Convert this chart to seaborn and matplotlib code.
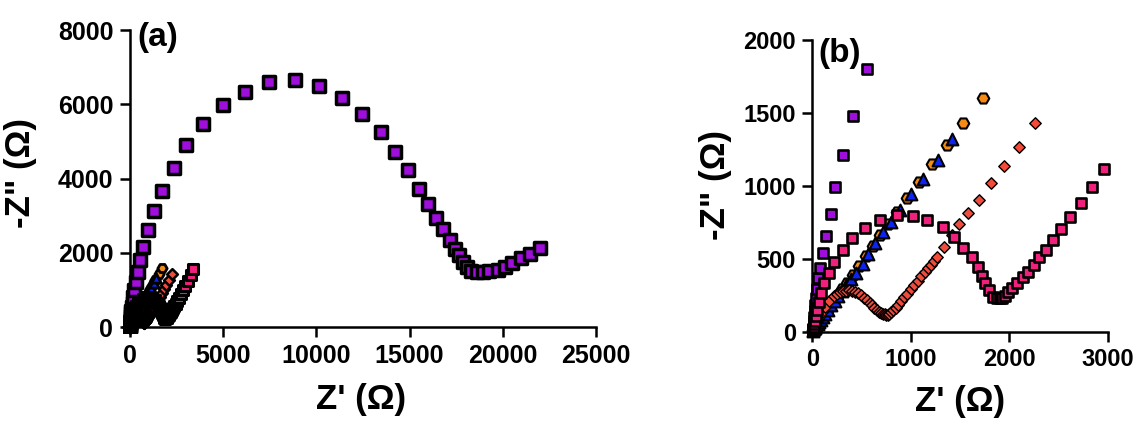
import numpy as np
import pandas as pd
import matplotlib
matplotlib.use("Agg")
import matplotlib.pyplot as plt
import seaborn as sns

# Nyquist data, Z' and -Z'' in ohms
purple_x = [5, 8, 11, 14, 17, 20, 24, 30, 38, 48, 61, 78, 105, 139, 187, 233, 310, 410, 552, 700,
            970, 1300, 1740, 2350, 3010, 3890, 4990, 6160, 7480, 8840, 10160, 11370, 12470, 13460,
            14230, 14890, 15480, 15980, 16430, 16800, 17150, 17410, 17630, 17850, 18070, 18300,
            18600, 18950, 19280, 19720, 20100, 20490, 20980, 21480, 21990]
purple_y = [10, 20, 30, 45, 70, 100, 140, 180, 230, 290, 365, 435, 538, 656, 810, 990, 1210, 1480,
            1800, 2160, 2620, 3130, 3660, 4270, 4890, 5460, 5990, 6340, 6590, 6650, 6490, 6170, 5730,
            5240, 4710, 4230, 3730, 3320, 2950, 2640, 2350, 2110, 1940, 1760, 1630, 1520, 1470, 1470,
            1500, 1540, 1630, 1720, 1850, 1980, 2140]

orange_x = [5, 10, 16, 24, 34, 46, 60, 77, 97, 120, 147, 178, 214, 255, 300, 350, 410, 470, 540,
            610, 688, 772, 863, 958, 1077, 1212, 1364, 1533, 1730]
orange_y = [5, 12, 20, 30, 40, 52, 66, 82, 100, 120, 145, 175, 210, 250, 290, 335, 390, 450, 520,
            590, 664, 739, 823, 915, 1025, 1150, 1280, 1430, 1600]

blue_x = [5, 10, 15, 22, 30, 40, 52, 67, 85, 105, 130, 160, 190, 225, 260, 300, 345, 390, 440,
          511, 569, 636, 714, 799, 890, 1002, 1127, 1273, 1415]
blue_y = [5, 10, 15, 22, 30, 40, 50, 65, 80, 100, 120, 150, 180, 210, 245, 280, 320, 360, 405,
          463, 531, 610, 682, 754, 834, 944, 1047, 1178, 1320]

red_x = [5, 10, 15, 20, 30, 40, 55, 75, 100, 130, 170, 220, 250, 280, 310, 340, 370, 400, 430,
         460, 490, 520, 550, 580, 605, 630, 655, 680, 700, 720, 735, 750, 765, 780, 800, 820, 845,
         870, 900, 930, 960, 1000, 1035, 1070, 1105, 1140, 1170, 1200, 1235, 1269, 1337, 1415,
         1492, 1584, 1692, 1811, 1946, 2100, 2261]
red_y = [5, 12, 20, 30, 45, 60, 80, 105, 135, 170, 210, 245, 260, 270, 277, 282, 283, 280, 273,
         262, 248, 232, 215, 198, 182, 165, 151, 138, 129, 122, 118, 115, 116, 122, 132, 145, 164,
         185, 210, 235, 260, 290, 320, 350, 380, 410, 435, 460, 487, 514, 583, 663, 737, 816, 903,
         1022, 1139, 1265, 1430]

pink_x = [5, 10, 15, 20, 28, 38, 50, 65, 88, 122, 170, 220, 308, 406, 535, 687, 857, 1019, 1167,
          1324, 1439, 1533, 1618, 1686, 1720, 1755, 1797, 1838, 1870, 1900, 1930, 1960, 1990, 2030,
          2080, 2136, 2193, 2251, 2305, 2373, 2447, 2525, 2616, 2725, 2836, 2962, 3100, 3250, 3400]
pink_y = [5, 15, 30, 50, 75, 110, 150, 200, 263, 332, 400, 480, 560, 640, 709, 766, 800, 796, 766,
          720, 652, 576, 510, 446, 380, 332, 286, 240, 232, 228, 232, 245, 274, 300, 332, 373, 410,
          457, 510, 560, 629, 702, 789, 885, 990, 1114, 1250, 1400, 1560]

xticks_a = [0, 5000, 10000, 15000, 20000, 25000]
yticks_a = [0, 2000, 4000, 6000, 8000]
xticks_b = [0, 1000, 2000, 3000]
yticks_b = [0, 500, 1000, 1500, 2000]

series = [
    # name, x, y, marker, colour, (size, edge) in panel a, (size, edge) in panel b
    ("S1", purple_x, purple_y, "s", "#A00EDC", (72, 2.5), (54, 1.9)),
    ("S2", orange_x, orange_y, "H", "#F58A14", (45, 2.0), (70, 1.5)),
    ("S3", blue_x, blue_y, "^", "#0B24F0", (45, 2.0), (72, 1.5)),
    ("S4", red_x, red_y, "D", "#F04B3B", (30, 1.8), (34, 1.0)),
    ("S5", pink_x, pink_y, "s", "#F0207D", (50, 2.2), (54, 1.9)),
]

frames = [pd.DataFrame({"x": sx, "y": sy, "name": n}) for n, sx, sy, *_ in series]
df = pd.concat(frames, ignore_index=True)

sns.set_style("ticks")
plt.rcParams["font.family"] = ["Liberation Sans", "DejaVu Sans"]
plt.rcParams["font.weight"] = "bold"
plt.rcParams["text.color"] = "black"
plt.rcParams["axes.labelcolor"] = "black"
plt.rcParams["xtick.color"] = "black"
plt.rcParams["ytick.color"] = "black"

fig = plt.figure(figsize=(11.4, 4.21), dpi=100)
ax_a = fig.add_axes([0.1075, 0.21, 0.4153, 0.7187])
ax_b = fig.add_axes([0.7088, 0.2019, 0.263, 0.703])

for i, (name, sx, sy, mk, col, sa, sb) in enumerate(series):
    sub = df[df["name"] == name]
    sns.scatterplot(data=sub, x="x", y="y", ax=ax_a, marker=mk, color=col,
                    s=sa[0], edgecolor="black", linewidth=sa[1], zorder=3 + i, legend=False)
    sub_b = sub[(sub["x"] <= 3000) & (sub["y"] <= 2000)]
    sns.scatterplot(data=sub_b, x="x", y="y", ax=ax_b, marker=mk, color=col,
                    s=sb[0], edgecolor="black", linewidth=sb[1], zorder=3 + i,
                    legend=False, clip_on=False)


def style_axes(ax, xlim, ylim, xt, yt, tick_size, tag, tag_xy, xlab_xy, ylab_xy):
    ax.set_xlim(*xlim)
    ax.set_ylim(*ylim)
    ax.set_xticks(xt)
    ax.set_yticks(yt)
    for side in ("top", "right"):
        ax.spines[side].set_visible(False)
    for side in ("left", "bottom"):
        ax.spines[side].set_position(("data", 0))
        ax.spines[side].set_linewidth(1.8)
        ax.spines[side].set_color("black")
    ax.tick_params(axis="both", direction="out", length=7, width=1.8, color="black",
                   labelsize=tick_size, pad=5)
    for lab in ax.get_xticklabels() + ax.get_yticklabels():
        lab.set_fontweight("bold")
    ax.set_xlabel("Z' (\u03A9)", fontsize=25, fontweight="bold")
    ax.set_ylabel('-Z" (\u03A9)', fontsize=25, fontweight="bold")
    ax.xaxis.set_label_coords(*xlab_xy)
    ax.yaxis.set_label_coords(*ylab_xy)
    ax.text(tag_xy[0], tag_xy[1], tag, transform=ax.transAxes, fontsize=24,
            fontweight="bold", ha="left", va="center")
    ax.grid(False)


style_axes(ax_a, (-400, 25000), (-150, 8000), xticks_a, yticks_a, 18, "(a)",
           (0.031, 0.975), (0.504, -0.165), (-0.18, 0.527))
style_axes(ax_b, (-45, 3000), (-30, 2000), xticks_b, yticks_b, 17, "(b)",
           (0.033, 0.956), (0.507, -0.165), (-0.253, 0.51))

fig.savefig("out.png", dpi=100)
